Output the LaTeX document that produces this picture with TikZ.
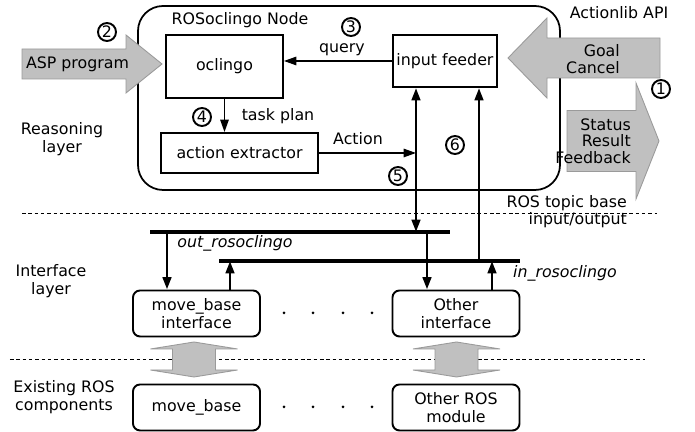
\documentclass[tikz,border=0pt]{standalone}
\usepackage{fontspec}
\setmainfont{DejaVu Sans}
\usetikzlibrary{arrows.meta}
\definecolor{blockgray}{HTML}{C0C0C0}
\definecolor{blockedge}{HTML}{9A9A9A}
\tikzset{
  box/.style={draw,line width=1.1pt,align=center,inner sep=2pt},
  ifbox/.style={draw,line width=1.1pt,rounded corners=4pt,align=center,
    minimum width=2.54cm,minimum height=0.92cm,inner sep=1pt},
  num/.style={circle,draw,line width=1.1pt,inner sep=0pt,minimum size=0.36cm},
  bus/.style={line width=2pt},
  link/.style={line width=0.75pt},
  thicklink/.style={line width=1.6pt},
  blockarrow/.style={fill=blockgray,draw=blockedge,line width=0.5pt},
  layerline/.style={line width=0.5pt,dash pattern=on 2pt off 1.6pt}
}
\begin{document}
\begin{tikzpicture}[font=\fontsize{9}{10}\selectfont,>={Triangle[length=7pt,width=4.8pt]}]
    \useasboundingbox (0,0) rectangle (13.9,8.64);
    % layer borders
    \draw[layerline] (0.44,4.38) -- (13.14,4.38);
    \draw[layerline] (0.2,1.46) -- (12.9,1.46);
    % layer names
    \node[align=center] (reasoning) at (1.24,5.86) {Reasoning\\layer};
    \node[align=center] (interface) at (1.02,3.02) {Interface\\layer};
    \node[align=center] (existing) at (1.28,0.7) {Existing ROS\\components};
    % the ROSoclingo node
    \node[draw,line width=1pt,rounded corners=0.5cm,minimum width=8.44cm,minimum height=3.68cm] (rosnode) at (6.98,6.68) {};
    \node (rosnodelbl) at (4.8,8.24) {ROSoclingo Node};
    \node[box,minimum width=2.34cm,minimum height=1.26cm] (oclingo) at (4.49,7.31) {oclingo};
    \node[box,minimum width=2.08cm,minimum height=1.04cm] (feeder) at (8.9,7.42) {input feeder};
    \node[box,minimum width=3.14cm,minimum height=0.8cm] (extractor) at (4.79,5.58) {action extractor};
    \node (query) at (6.84,7.64) {query};
    \node (taskplan) at (5.56,6.32) {task plan};
    \node (action) at (7.16,5.86) {Action};
    % block arrows
    \draw[blockarrow] (0.44,7.06) -- (2.52,7.06) -- (2.52,6.78) -- (3.24,7.36)
        -- (2.52,7.94) -- (2.52,7.66) -- (0.44,7.66) -- cycle;
    \node (asp) at (1.55,7.36) {ASP program};
    \draw[blockarrow] (13.2,7.08) -- (10.94,7.08) -- (10.94,6.68) -- (10.16,7.48)
        -- (10.94,8.28) -- (10.94,7.88) -- (13.2,7.88) -- cycle;
    \node[align=right,anchor=east] (goal) at (12.52,7.46) {Goal\\Cancel};
    \draw[blockarrow] (11.34,5.21) -- (12.72,5.21) -- (12.72,4.66) -- (13.18,5.82)
        -- (12.72,6.98) -- (12.72,6.43) -- (11.34,6.43) -- cycle;
    \node[align=right,anchor=east,font=\fontsize{9}{9.4}\selectfont] (status) at (12.74,5.82) {Status\\Result\\Feedback};
    \node (actionlib) at (12.38,8.38) {Actionlib API};
    \node[align=right,anchor=east] (topic) at (12.66,4.41) {ROS topic base\\input/output};
    % interface layer and ROS components
    \node[ifbox] (mbi) at (3.93,2.37) {move\_base\\interface};
    \node[ifbox] (oi) at (9.12,2.37) {Other\\interface};
    \node[ifbox] (mb) at (3.93,0.49) {move\_base};
    \node[ifbox] (om) at (9.12,0.49) {Other ROS\\module};
    \foreach \x in {5.68,6.26,6.86,7.44} {
        \fill (\x,2.38) circle (0.03);
        \fill (\x,0.5) circle (0.03);
    }
    \foreach \c in {3.88,9.13} {
        \draw[blockarrow] (\c,1.1) -- ++(0.87,0.14) -- ++(-0.44,0) -- ++(0,0.42)
            -- ++(0.44,0) -- ++(-0.87,0.14) -- ++(-0.87,-0.14) -- ++(0.44,0)
            -- ++(0,-0.42) -- ++(-0.44,0) -- cycle;
    }
    % topics
    \coordinate (outL) at (3.0,4.0);
    \coordinate (outR) at (9.0,4.0);
    \coordinate (inL) at (4.38,3.42);
    \coordinate (inR) at (10.4,3.42);
    \coordinate (outtap) at (8.32,4.0);
    \coordinate (intap) at (9.58,3.42);
    \coordinate (mbdown) at (3.34,4.0);
    \coordinate (mbup) at (4.6,3.42);
    \coordinate (oidown) at (8.54,4.0);
    \coordinate (oiup) at (9.84,3.42);
    \draw[bus] (outL) -- (outR);
    \draw[bus] (inL) -- (inR);
    \node[font=\fontsize{9}{10}\itshape] (outlbl) at (4.7,3.78) {out\_rosoclingo};
    \node[font=\fontsize{9}{10}\itshape] (inlbl) at (11.3,3.18) {in\_rosoclingo};
    % connectors
    \draw[link,->] (feeder.west) -- (feeder.west -| oclingo.east);
    \draw[link,->] (oclingo.south) -- (oclingo.south |- extractor.north);
    \draw[link,->] (extractor.east) -- (extractor.east -| outtap);
    \draw[thicklink,<->] (outtap |- feeder.south) -- (outtap);
    \draw[thicklink,->] (intap) -- (intap |- feeder.south);
    \draw[thicklink,->] (mbdown) -- (mbdown |- mbi.north);
    \draw[thicklink,->] (mbup |- mbi.north) -- (mbup);
    \draw[thicklink,->] (oidown) -- (oidown |- oi.north);
    \draw[thicklink,->] (oiup |- oi.north) -- (oiup);
    % steps
    \node[num] (n1) at (13.22,6.86) {1};
    \node[num] (n2) at (2.14,8.0) {2};
    \node[num] (n3) at (7.02,8.1) {3};
    \node[num] (n4) at (4.04,6.3) {4};
    \node[num] (n5) at (7.96,5.12) {5};
    \node[num] (n6) at (9.1,5.74) {6};
\end{tikzpicture}
\end{document}
